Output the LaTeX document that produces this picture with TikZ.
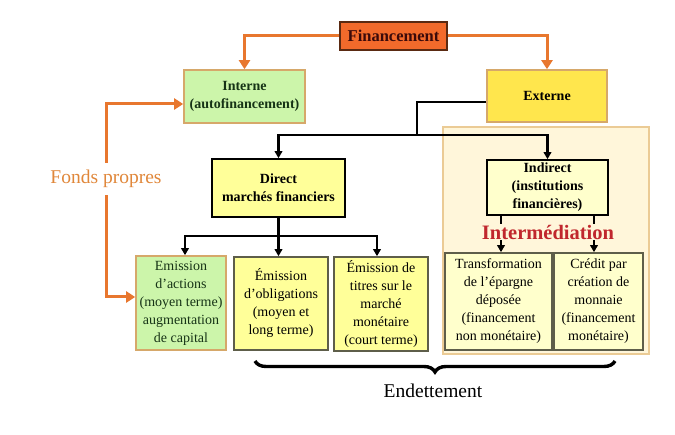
\documentclass[tikz,border=0pt]{standalone}
\usepackage{fontspec}
\setmainfont{Liberation Serif}
\usepackage{xcolor}
\usetikzlibrary{arrows.meta,decorations.pathreplacing}

\definecolor{finfill}{HTML}{F26A2B}
\definecolor{findraw}{HTML}{5A2A12}
\definecolor{fintext}{HTML}{3B0A0A}
\definecolor{vertfill}{HTML}{CCF5AA}
\definecolor{verttext}{HTML}{163316}
\definecolor{tandraw}{HTML}{D6A86A}
\definecolor{extfill}{HTML}{FFE64D}
\definecolor{jaunefill}{HTML}{FFFF99}
\definecolor{palefill}{HTML}{FFFFCC}
\definecolor{panelfill}{HTML}{FFF6DA}
\definecolor{paneldraw}{HTML}{EBCB95}
\definecolor{grisdraw}{HTML}{5E5E4A}
\definecolor{rouge}{HTML}{C0272D}
\definecolor{orflux}{HTML}{E8772E}
\definecolor{ortext}{HTML}{E0873A}

\begin{document}
\begin{tikzpicture}[x=1pt,y=-1pt,
    box/.style={draw,align=center,inner sep=0pt,line width=1.6pt},
    head/.style={box,font=\fontsize{14}{18}\selectfont\bfseries},
    low/.style={box,font=\fontsize{14}{18}\selectfont},
    orflow/.style={draw=orflux,line width=3pt,-{Triangle[width=11pt,length=9pt]}},
    blflow/.style={line width=2.1pt,-{Triangle[width=7.5pt,length=7pt]}}]

    \useasboundingbox (0,0) rectangle (675,435);

    \node[box,draw=paneldraw,fill=panelfill,minimum width=206,minimum height=227] (panel) at (546,240.5) {};

    \node[head,fill=finfill,draw=findraw,text=fintext,font=\fontsize{16.5}{18}\selectfont\bfseries,
          minimum width=107,minimum height=28] (fin) at (393.5,36) {Financement};
    \node[head,fill=vertfill,draw=tandraw,text=verttext,minimum width=121,minimum height=53] (interne) at (244.5,96.5) {Interne\\(autofinancement)};
    \node[head,fill=extfill,draw=tandraw,minimum width=120,minimum height=52] (externe) at (547,96) {Externe};

    \node[head,fill=jaunefill,minimum width=133,minimum height=58] (direct) at (278.5,188) {Direct\\marchés financiers};
    \node[head,fill=palefill,minimum width=121,minimum height=55] (indirect) at (547.5,187.5) {Indirect\\(institutions\\financières)};

    \node[low,fill=vertfill,draw=tandraw,text=verttext,minimum width=90,minimum height=94] (actions) at (181,303)
        {Emission\\d'actions\\(moyen terme)\\augmentation\\de capital};
    \node[low,fill=jaunefill,draw=grisdraw,minimum width=94,minimum height=93] (oblig) at (281,303.5)
        {Émission\\d'obligations\\(moyen et\\long terme)};
    \node[low,fill=jaunefill,draw=grisdraw,minimum width=94,minimum height=94] (titres) at (381,304)
        {Émission de\\titres sur le\\marché\\monétaire\\(court terme)};
    \node[low,fill=palefill,draw=grisdraw,minimum width=107,minimum height=97] (transfo) at (498.5,301.5)
        {Transformation\\de l'épargne\\déposée\\(financement\\non monétaire)};
    \node[low,fill=palefill,draw=grisdraw,minimum width=89,minimum height=97] (credit) at (598.5,301.5)
        {Crédit par\\création de\\monnaie\\(financement\\monétaire)};

    \draw[orflow] (fin.west) -| (interne.north);
    \draw[orflow] (fin.east) -| (externe.north);

    \coordinate (split) at (417,135);
    \draw[line width=2.1pt] ([yshift=-6pt]externe.west) -| (split);
    \draw[blflow] (split) -| (direct.north);
    \draw[blflow] (split) -| (indirect.north);

    \coordinate (dsplit) at (278.5,236);
    \draw[line width=2.1pt] (direct.south) -- (dsplit);
    \draw[blflow] (dsplit) -| ([xshift=4pt]actions.north);
    \draw[blflow] (dsplit) -- (oblig.north -| dsplit);
    \draw[blflow] (dsplit) -| ([xshift=-4pt]titres.north);

    \draw[blflow] ([xshift=2.5pt]transfo.north |- indirect.south) -- ([xshift=2.5pt]transfo.north);
    \draw[blflow] ([xshift=-4.5pt]credit.north |- indirect.south) -- ([xshift=-4.5pt]credit.north);
    \node[fill=panelfill,inner sep=1pt,text=rouge,font=\fontsize{20.5}{22}\selectfont\bfseries] (interm) at (548,232) {Intermédiation};

    \node[text=ortext,font=\fontsize{19.5}{22}\selectfont,inner sep=7pt] (fonds) at (106,179) {Fonds propres};
    \draw[orflow] (fonds.north) |- ([yshift=-7.5pt]interne.west);
    \draw[orflow] (fonds.south) |- ([yshift=6pt]actions.west);

    \coordinate (bl) at (255,361);
    \coordinate (br) at (615,361);
    \draw[line width=3.4pt,decorate,decoration={brace,mirror,amplitude=11pt}] (bl) -- (br);
    \node[font=\fontsize{19.5}{22}\selectfont] (endet) at (433,391) {Endettement};
\end{tikzpicture}
\end{document}
